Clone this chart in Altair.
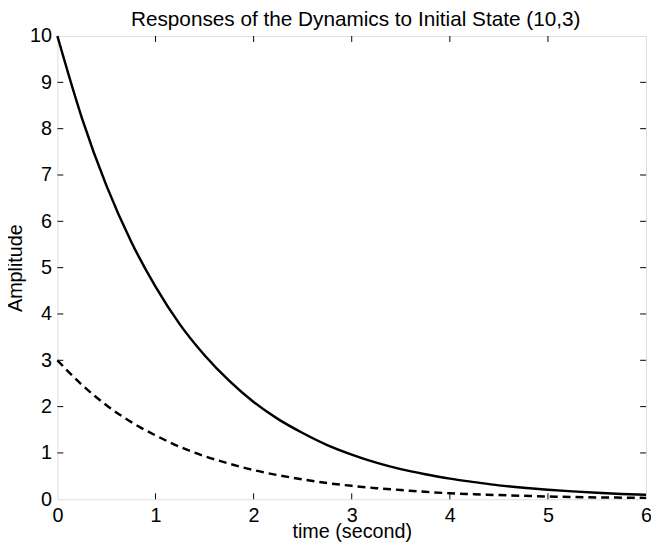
import altair as alt
import pandas as pd

t = [0, 0.25, 0.5, 0.75, 1, 1.25, 1.5, 1.75, 2, 2.25, 2.5, 2.75, 3, 3.25, 3.5,
     3.75, 4, 4.25, 4.5, 4.75, 5, 5.25, 5.5, 5.75, 6]
x1 = [10, 8.23, 6.77, 5.57, 4.59, 3.77, 3.11, 2.56, 2.1, 1.73, 1.43, 1.17, 0.965,
      0.79, 0.65, 0.54, 0.445, 0.37, 0.3, 0.25, 0.205, 0.17, 0.14, 0.115, 0.095]
x2 = [3, 2.47, 2.03, 1.67, 1.38, 1.13, 0.93, 0.77, 0.63, 0.52, 0.43, 0.35, 0.29,
      0.24, 0.2, 0.16, 0.13, 0.11, 0.09, 0.075, 0.06, 0.05, 0.04, 0.035, 0.03]
xticks = [0, 1, 2, 3, 4, 5, 6]
yticks = [0, 1, 2, 3, 4, 5, 6, 7, 8, 9, 10]
title_text = "Responses of the Dynamics to Initial State (10,3)"

FONT = "Liberation Sans"
FS = 20
W, H = 596, 469

df = pd.DataFrame({"t": t, "x1": x1, "x2": x2})
xs = alt.Scale(domain=[0, 6], nice=False)
ys = alt.Scale(domain=[0, 10], nice=False)

xaxis = alt.Axis(values=xticks, ticks=False, domain=False, grid=False, format="d",
                 labelFontSize=FS, labelFont=FONT, labelColor="black",
                 labelPadding=7, title="time (second)", titleFont=FONT,
                 titleFontSize=FS, titleFontWeight="normal", titleColor="black",
                 titleBaseline="alphabetic", titleY=39,
                 labelFlush=False, labelOverlap=False)
yaxis = alt.Axis(values=yticks, ticks=False, domain=False, grid=False, format="d",
                 labelFontSize=FS, labelFont=FONT, labelColor="black",
                 labelPadding=6, title="Amplitude", titleFont=FONT,
                 titleFontSize=FS, titleFontWeight="normal", titleColor="black",
                 titleBaseline="alphabetic", titleX=-36,
                 labelFlush=False, labelOverlap=False)

base = alt.Chart(df)
solid = base.mark_line(color="black", strokeWidth=2.5, interpolate="monotone").encode(
    x=alt.X("t:Q", scale=xs, axis=xaxis),
    y=alt.Y("x1:Q", scale=ys, axis=yaxis),
)
dashed = base.mark_line(color="black", strokeWidth=2.5, strokeDash=[8, 5],
                        interpolate="monotone").encode(
    x=alt.X("t:Q", scale=xs),
    y=alt.Y("x2:Q", scale=ys),
)

xt = pd.DataFrame({"v": xticks[1:-1]})
yt = pd.DataFrame({"v": yticks[1:-1]})
tick_len = 6
xb = alt.Chart(xt).mark_rule(color="black", strokeWidth=1).encode(
    x=alt.X("v:Q", scale=xs), y=alt.value(H), y2=alt.value(H - tick_len))
xtop = alt.Chart(xt).mark_rule(color="black", strokeWidth=1).encode(
    x=alt.X("v:Q", scale=xs), y=alt.value(0), y2=alt.value(tick_len))
yl = alt.Chart(yt).mark_rule(color="black", strokeWidth=1).encode(
    y=alt.Y("v:Q", scale=ys), x=alt.value(0), x2=alt.value(tick_len))
yr = alt.Chart(yt).mark_rule(color="black", strokeWidth=1).encode(
    y=alt.Y("v:Q", scale=ys), x=alt.value(W), x2=alt.value(W - tick_len))

title = alt.Chart(pd.DataFrame({"txt": [title_text]})).mark_text(
    font=FONT, fontSize=21, color="black", align="center", baseline="alphabetic"
).encode(text="txt:N", x=alt.value(W / 2 + 4), y=alt.value(-10))

chart = alt.layer(solid, dashed, xb, xtop, yl, yr, title).properties(
    width=W, height=H,
    autosize=alt.AutoSizeParams(type="none"),
    padding={"left": 50, "top": 25, "right": 5, "bottom": 49},
).configure_view(stroke="black", strokeWidth=1).configure(background="white")

chart.save("out.html", embed_options={"renderer": "svg", "actions": False})
